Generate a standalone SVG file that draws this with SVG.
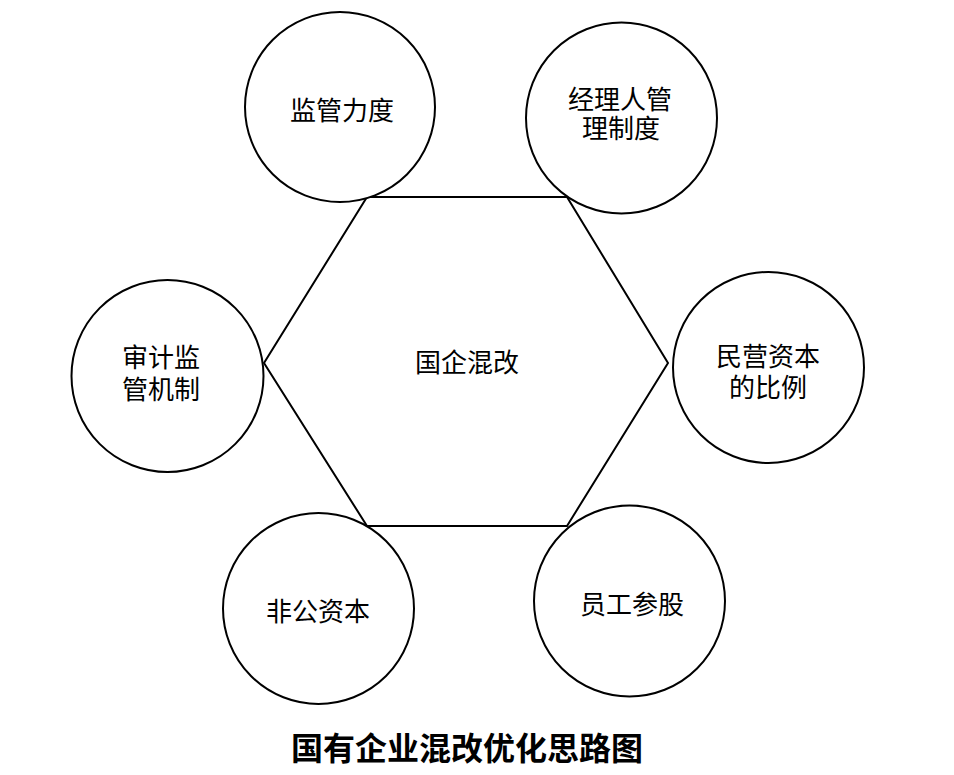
<svg xmlns="http://www.w3.org/2000/svg" width="954" height="775" viewBox="0 0 954 775">
<style>
.c{fill:#fff;stroke:#000;stroke-width:2}
.h{fill:#fff;stroke:#000;stroke-width:2;stroke-linejoin:miter}
.t{font-family:"Liberation Serif","Noto Sans CJK SC",serif;font-size:26px;fill:#000;text-anchor:middle}
.ti{font-family:"Liberation Sans","Noto Sans CJK SC",sans-serif;font-size:32px;font-weight:bold;fill:#000;text-anchor:middle}
</style>
<rect width="954" height="775" fill="#fff"/>
<g id="connectors"></g>
<g id="hexagon">
<polygon class="h" points="367,197 567,197 668,363 567,526 367,526 264,363"/>
<text class="t" x="467" y="372">国企混改</text>
</g>
<g id="n1"><circle class="c" cx="340" cy="107" r="95"/><text class="t" x="342" y="120">监管力度</text></g>
<g id="n2"><circle class="c" cx="621.5" cy="118" r="95.5"/><text class="t" x="620" y="109">经理人管</text><text class="t" x="621" y="138">理制度</text></g>
<g id="n3"><circle class="c" cx="167.5" cy="376" r="96"/><text class="t" x="161" y="367">审计监</text><text class="t" x="161" y="399">管机制</text></g>
<g id="n4"><circle class="c" cx="768.5" cy="367.5" r="95.5"/><text class="t" x="768" y="366">民营资本</text><text class="t" x="768" y="397">的比例</text></g>
<g id="n5"><circle class="c" cx="318.5" cy="608.5" r="95.5"/><text class="t" x="318" y="621">非公资本</text></g>
<g id="n6"><circle class="c" cx="629.5" cy="601" r="95.5"/><text class="t" x="632" y="614">员工参股</text></g>
<text class="ti" x="467" y="760">国有企业混改优化思路图</text>
</svg>
